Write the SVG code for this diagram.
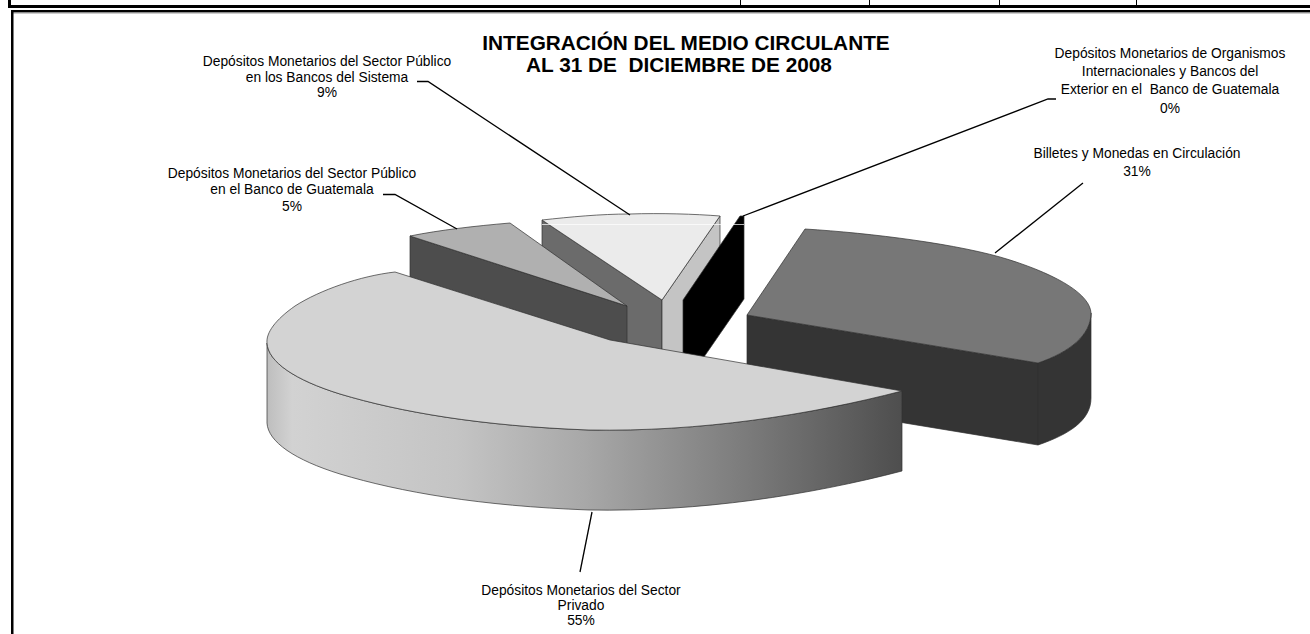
<svg xmlns="http://www.w3.org/2000/svg" width="1310" height="634" viewBox="0 0 1310 634">
<style>
.lbl{font-family:"Liberation Sans",Arial,sans-serif;font-size:13.8px;fill:#000;text-anchor:middle;white-space:pre}
.ttl{font-family:"Liberation Sans",Arial,sans-serif;font-size:20.8px;font-weight:bold;fill:#000;text-anchor:middle;white-space:pre}
.edge{stroke:#303030;stroke-width:0.7;stroke-linejoin:round}
.lead{stroke:#000;stroke-width:1.3;fill:none}
</style>
<defs>
<linearGradient id="sideGrad" gradientUnits="userSpaceOnUse" x1="267" y1="0" x2="902" y2="0">
<stop offset="0" stop-color="#BEBEBE"/>
<stop offset="0.04" stop-color="#D2D2D2"/>
<stop offset="0.3" stop-color="#C4C4C4"/>
<stop offset="0.5" stop-color="#A8A8A8"/>
<stop offset="0.75" stop-color="#7C7C7C"/>
<stop offset="1" stop-color="#4E4E4E"/>
</linearGradient>
</defs>
<rect width="1310" height="634" fill="#fff"/>
<g id="frame">
<rect x="8" y="0" width="3" height="8" fill="#000"/>
<rect x="8" y="5" width="1302" height="3" fill="#000"/>
<g stroke="#000" stroke-width="1">
<line x1="740.5" y1="0" x2="740.5" y2="5"/>
<line x1="869.5" y1="0" x2="869.5" y2="5"/>
<line x1="999.5" y1="0" x2="999.5" y2="5"/>
<line x1="1136.5" y1="0" x2="1136.5" y2="5"/>
</g>
<rect x="11" y="10" width="1299" height="2.5" fill="#000"/>
<rect x="13" y="12.5" width="1297" height="1" fill="#999"/>
<rect x="11" y="10" width="2.5" height="624" fill="#000"/>
</g>
<g id="title">
<text class="ttl" x="686" y="50">INTEGRACIÓN DEL MEDIO CIRCULANTE</text>
<text class="ttl" x="679" y="72">AL 31 DE  DICIEMBRE DE 2008</text>
</g>
<g id="slice-sector-publico-bancos">
<path class="edge" d="M542 220 L662 300 L662 383 L542 303 Z" fill="#6B6B6B"/>
<path class="edge" d="M662 300 L720 216 L720 299 L662 383 Z" fill="#C4C4C4"/>
<path class="edge" d="M542 220 C570 217 600 214 630 214 C660 213 695 214 720 216 L662 300 Z" fill="#EBEBEB"/>
</g>
<g id="slice-organismos">
<path class="edge" d="M683 300 L740 216 L744 216 L744 299 L686 383 L683 383 Z" fill="#000"/>
</g>
<line x1="542" y1="224.5" x2="744" y2="224.5" stroke="#fff" stroke-opacity="0.7" stroke-width="1"/>
<g id="slice-sector-publico-banguat">
<path class="edge" d="M410 236 L627 306 L627 389 L410 319 Z" fill="#4D4D4D"/>
<path class="edge" d="M410 236 C440 230 475 226 510 223 L627 306 Z" fill="#B0B0B0"/>
</g>
<g id="slice-billetes">
<path class="edge" d="M747 315 L1038 363 L1038 445 L747 397 Z" fill="#343434"/>
<path class="edge" d="M1038 363 C1070 352 1091 335 1091 313 L1091 398 C1091 420 1070 434 1038 445 Z" fill="#343434"/>
<path class="edge" d="M747 315 L805 229 C870 233 960 244 1010 260 C1060 276 1090 295 1091 313 C1091 335 1070 352 1038 363 Z" fill="#777777"/>
</g>
<g id="slice-sector-privado">
<path class="edge" d="M267 343 C268 362 295 380 340 394 C400 412 480 426 589 430 C700 432 810 415 902 391 L902 471 C810 495 700 512 589 510 C480 506 400 492 340 474 C295 460 268 442 267 423 Z" fill="url(#sideGrad)"/>
<path class="edge" d="M610 340 L395 272 C360 276 320 290 295 306 C275 320 266 333 267 343 C268 362 295 380 340 394 C400 412 480 426 589 430 C700 432 810 415 902 391 Z" fill="#D3D3D3"/>
</g>
<g id="connectors">
<polyline class="lead" points="417,81.5 428,81.5 630,215"/>
<polyline class="lead" points="383,194.5 395,194.5 457,229"/>
<polyline class="lead" points="1056,99 1048,99 743,216"/>
<line class="lead" x1="1083" y1="183" x2="995" y2="253"/>
<line class="lead" x1="592" y1="512" x2="580" y2="572"/>
</g>
<g id="label-9">
<text class="lbl" x="327" y="66">Depósitos Monetarios del Sector Público</text>
<text class="lbl" x="327" y="82">en los Bancos del Sistema</text>
<text class="lbl" x="327" y="97">9%</text>
</g>
<g id="label-5">
<text class="lbl" x="292" y="178">Depósitos Monetarios del Sector Público</text>
<text class="lbl" x="292" y="194">en el Banco de Guatemala</text>
<text class="lbl" x="292" y="211">5%</text>
</g>
<g id="label-0">
<text class="lbl" x="1170" y="58">Depósitos Monetarios de Organismos</text>
<text class="lbl" x="1170" y="76">Internacionales y Bancos del</text>
<text class="lbl" x="1170" y="94">Exterior en el  Banco de Guatemala</text>
<text class="lbl" x="1170" y="113">0%</text>
</g>
<g id="label-31">
<text class="lbl" x="1137" y="158">Billetes y Monedas en Circulación</text>
<text class="lbl" x="1137" y="176">31%</text>
</g>
<g id="label-55">
<text class="lbl" x="581" y="595">Depósitos Monetarios del Sector</text>
<text class="lbl" x="581" y="610">Privado</text>
<text class="lbl" x="581" y="625">55%</text>
</g>
</svg>
